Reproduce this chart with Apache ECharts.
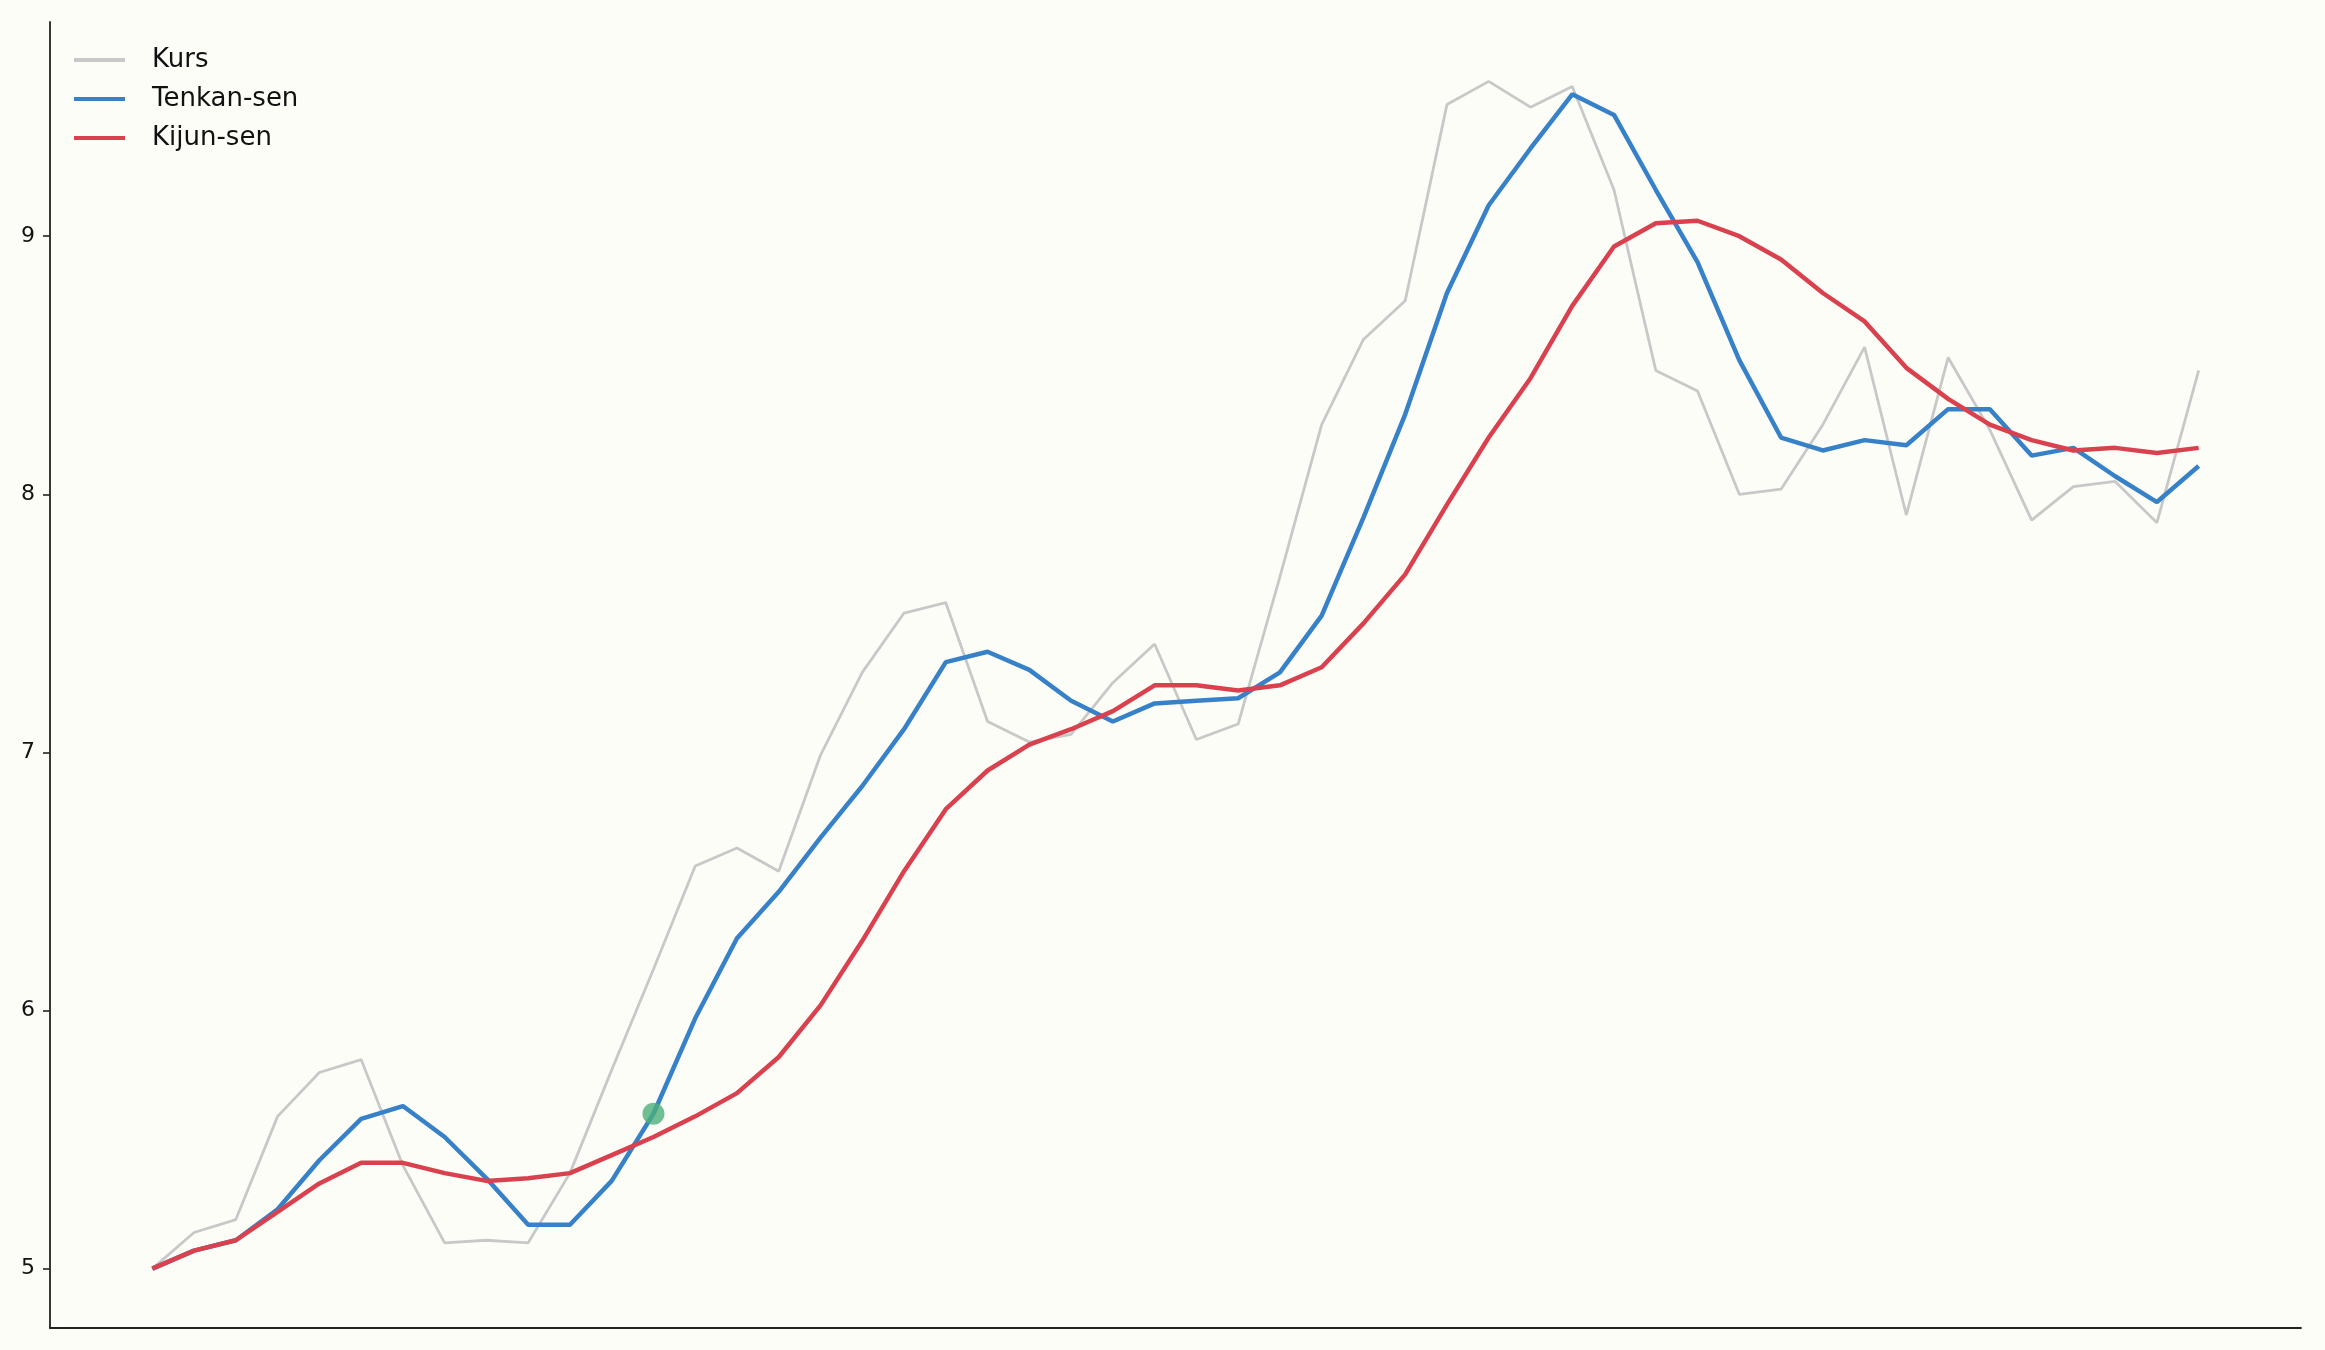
<!DOCTYPE html>
<html>
<head>
<meta charset="utf-8">
<script src="https://cdn.jsdelivr.net/npm/echarts@6/dist/echarts.min.js"></script>
<style>
  html, body { margin: 0; padding: 0; background: #fdfdf8; }
  #chart { width: 2325px; height: 1350px; }
</style>
</head>
<body>
<div id="chart"></div>
<script>
// price and the two Ichimoku lines, one value per period
var kurs = [5.00, 5.14, 5.19, 5.59, 5.76, 5.81, 5.40, 5.10, 5.11, 5.10,
            5.37, 5.77, 6.16, 6.56, 6.63, 6.54, 6.99, 7.31, 7.54, 7.58,
            7.12, 7.04, 7.07, 7.27, 7.42, 7.05, 7.11, 7.68, 8.27, 8.60,
            8.75, 9.51, 9.60, 9.50, 9.58, 9.18, 8.48, 8.40, 8.00, 8.02,
            8.27, 8.57, 7.92, 8.53, 8.25, 7.90, 8.03, 8.05, 7.89, 8.48];
var tenkan = [5.00, 5.07, 5.11, 5.23, 5.42, 5.58, 5.63, 5.51, 5.35, 5.17,
              5.17, 5.34, 5.60, 5.97, 6.28, 6.46, 6.67, 6.87, 7.09, 7.35,
              7.39, 7.32, 7.20, 7.12, 7.19, 7.20, 7.21, 7.31, 7.53, 7.91,
              8.31, 8.78, 9.12, 9.34, 9.55, 9.47, 9.18, 8.90, 8.52, 8.22,
              8.17, 8.21, 8.19, 8.33, 8.33, 8.15, 8.18, 8.07, 7.97, 8.11];
var kijun = [5.00, 5.07, 5.11, 5.22, 5.33, 5.41, 5.41, 5.37, 5.34, 5.35,
             5.37, 5.44, 5.51, 5.59, 5.68, 5.82, 6.02, 6.27, 6.54, 6.78,
             6.93, 7.03, 7.09, 7.16, 7.26, 7.26, 7.24, 7.26, 7.33, 7.50,
             7.69, 7.96, 8.22, 8.45, 8.73, 8.96, 9.05, 9.06, 9.00, 8.91,
             8.78, 8.67, 8.49, 8.37, 8.27, 8.21, 8.17, 8.18, 8.16, 8.18];
// crossing marker: [period, value]
var signals = [[12, 5.60]];
var yTicks = [5, 6, 7, 8, 9];

function pairs(arr) {
    return arr.map(function (v, i) { return [i, v]; });
}

var chart = echarts.init(document.getElementById('chart'));
var axisColor = '#222222';

chart.setOption({
    backgroundColor: '#fdfdf8',
    animation: false,
    grid: { left: 50, right: 24, top: 22, bottom: 22 },
    legend: {
        orient: 'vertical',
        left: 69,
        top: 42,
        icon: 'rect',
        itemWidth: 51,
        itemHeight: 4,
        itemGap: 13,
        data: ['Kurs', 'Tenkan-sen', 'Kijun-sen'],
        textStyle: {
            fontFamily: 'DejaVu Sans',
            fontSize: 26,
            color: '#111111',
            padding: [0, 0, 0, 22]
        }
    },
    xAxis: {
        type: 'value',
        min: -2.45,
        max: 51.45,
        axisLine: { show: true, onZero: false, lineStyle: { color: axisColor, width: 1.8 } },
        axisTick: { show: false },
        axisLabel: { show: false },
        splitLine: { show: false }
    },
    yAxis: {
        type: 'value',
        min: 4.77,
        max: 9.83,
        axisLine: { show: true, onZero: false, lineStyle: { color: axisColor, width: 1.8 } },
        axisTick: {
            show: true,
            length: 7,
            customValues: yTicks,
            lineStyle: { color: axisColor, width: 1.6 }
        },
        axisLabel: {
            customValues: yTicks,
            margin: 15,
            fontFamily: 'DejaVu Sans',
            fontSize: 22,
            color: '#111111'
        },
        splitLine: { show: false }
    },
    series: [
        {
            name: 'Kurs',
            type: 'line',
            data: pairs(kurs),
            symbol: 'none',
            color: '#c8c8c8',
            lineStyle: { width: 2.8, color: '#c8c8c8' },
            z: 2
        },
        {
            name: 'Tenkan-sen',
            type: 'line',
            data: pairs(tenkan),
            symbol: 'none',
            color: '#3681c8',
            lineStyle: { width: 4.5, color: '#3681c8' },
            z: 3
        },
        {
            name: 'Kijun-sen',
            type: 'line',
            data: pairs(kijun),
            symbol: 'none',
            color: '#d9414f',
            lineStyle: { width: 4.5, color: '#d9414f' },
            z: 4
        },
        {
            name: 'Signal',
            type: 'scatter',
            data: signals,
            symbol: 'circle',
            symbolSize: 22,
            itemStyle: { color: '#4caf7b' },
            z: 5
        }
    ]
});
</script>
</body>
</html>
